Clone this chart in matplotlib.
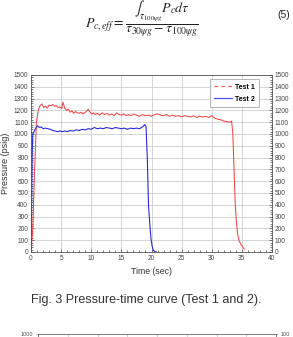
import matplotlib
matplotlib.use("Agg")
import matplotlib.pyplot as plt
from matplotlib.lines import Line2D
from matplotlib.ticker import MultipleLocator

plt.rcParams['font.family'] = ['Liberation Sans', 'DejaVu Sans']
plt.rcParams['mathtext.fontset'] = 'stix'

# Test 1 (red), time in sec / pressure in psig
t1 = [0.0, 0.3, 0.6, 0.9, 1.2, 1.5, 1.8, 2.1, 2.4, 2.7,
      3.0, 3.3, 3.6, 3.9, 4.2, 4.5, 4.8, 5.1, 5.3, 5.6,
      5.9, 6.2, 6.5, 6.8, 7.1, 7.4, 7.7, 8.0, 8.3, 8.6,
      8.9, 9.2, 9.5, 9.8, 10.1, 10.4, 10.7, 11.0, 11.4, 11.8,
      12.2, 12.6, 13.0, 13.4, 13.8, 14.2, 14.6, 15.0, 15.4, 15.8,
      16.2, 16.6, 17.0, 17.5, 18.0, 18.5, 19.0, 19.5, 20.0, 20.5,
      21.0, 21.5, 22.0, 22.5, 23.0, 23.5, 24.0, 24.5, 25.0, 25.5,
      26.0, 26.5, 27.0, 27.5, 28.0, 28.5, 29.0, 29.5, 30.0, 30.5,
      31.0, 31.5, 32.0, 32.5, 33.0, 33.3, 33.5, 33.7, 33.9, 34.1,
      34.3, 34.5, 34.8, 35.1, 35.4]
p1 = [0, 200, 700, 1100, 1200, 1240, 1255, 1225, 1235, 1220,
      1245, 1240, 1250, 1235, 1240, 1225, 1230, 1215, 1270, 1220,
      1200, 1210, 1185, 1195, 1175, 1190, 1180, 1175, 1185, 1170,
      1180, 1190, 1210, 1185, 1170, 1180, 1165, 1175, 1160, 1180,
      1165, 1175, 1160, 1170, 1155, 1180, 1165, 1160, 1170, 1155,
      1165, 1155, 1170, 1160, 1150, 1165, 1155, 1160, 1150, 1165,
      1170, 1160, 1155, 1165, 1150, 1160, 1150, 1155, 1145, 1155,
      1150, 1145, 1155, 1140, 1150, 1145, 1150, 1140, 1155, 1135,
      1125, 1120, 1110, 1105, 1100, 1110, 1000, 700, 400, 250,
      150, 100, 70, 45, 25]

# Test 2 (blue)
t2 = [0.0, 0.1, 0.2, 0.3, 0.5, 0.8, 1.1, 1.4, 1.7, 2.0,
      2.4, 2.8, 3.2, 3.6, 4.0, 4.4, 4.8, 5.2, 5.6, 6.0,
      6.5, 7.0, 7.5, 8.0, 8.5, 9.0, 9.5, 10.0, 10.5, 11.0,
      11.5, 12.0, 12.5, 13.0, 13.5, 14.0, 14.5, 15.0, 15.5, 16.0,
      16.5, 17.0, 17.5, 18.0, 18.5, 18.9, 19.1, 19.3, 19.5, 19.7,
      19.9, 20.1, 20.3, 20.5, 20.8]
p2 = [0, 400, 850, 1000, 1020, 1050, 1070, 1055, 1060, 1045,
      1050, 1045, 1040, 1030, 1025, 1020, 1025, 1020, 1025, 1020,
      1030, 1025, 1035, 1030, 1040, 1035, 1045, 1040, 1055, 1045,
      1050, 1045, 1055, 1050, 1045, 1055, 1050, 1045, 1050, 1040,
      1050, 1045, 1050, 1045, 1060, 1080, 1060, 800, 400, 250,
      120, 50, 15, 5, 0]

W, H = 293, 337
fig = plt.figure(figsize=(W / 100, H / 100), dpi=100)

# equation (its top is cut off in the scanned page)
fig.text(85 / W, 1 - 29 / H,
         r'$P_{c,eff} = \dfrac{\int_{\tau_{100\psi g}} P_c d\tau}{\tau_{30\psi g} - \tau_{100\psi g}}$',
         fontsize=10, va='baseline', ha='left', color='#222222')
fig.text(0.99, 1 - 18 / H, '(5)', fontsize=7.5, ha='right', color='#222222')

# main chart
ax = fig.add_axes([31 / W, 1 - 252 / H, 241 / W, 177 / H])
ax.plot(t1, p1, color='#f04848', lw=0.75)
ax.plot(t2, p2, color='#2a2ad8', lw=0.8)
ax.set_xlim(0, 40)
ax.set_ylim(0, 1500)
ax.xaxis.set_major_locator(MultipleLocator(5))
ax.xaxis.set_minor_locator(MultipleLocator(1))
ax.yaxis.set_major_locator(MultipleLocator(100))
ax.yaxis.set_minor_locator(MultipleLocator(20))
ax.grid(True, which='major', color='#cfcfcf', lw=0.6)
ax.tick_params(which='both', direction='in', labelsize=4.7, colors='#444444',
               length=2, width=0.5, pad=2)
ax.tick_params(which='minor', length=1.2)
ax.tick_params(axis='y', which='both', left=True, right=True)
ax.tick_params(axis='x', which='both', top=False)
for s in ax.spines.values():
    s.set_color('#555555')
    s.set_linewidth(0.6)
ax.set_xlabel('Time (sec)', fontsize=6.3, color='#333333', labelpad=4)
ax.set_ylabel('Pressure (psig)', fontsize=6.5, color='#333333', labelpad=3)

axr = ax.twinx()
axr.set_ylim(ax.get_ylim())
axr.yaxis.set_major_locator(MultipleLocator(100))
axr.yaxis.set_minor_locator(MultipleLocator(20))
axr.tick_params(which='both', direction='in', labelsize=4.7, colors='#444444',
                length=2, width=0.5, pad=2)
axr.tick_params(which='minor', length=1.2)
for s in axr.spines.values():
    s.set_visible(False)

handles = [Line2D([], [], color='#f06060', lw=0.9, ls=(0, (3, 2.5))),
           Line2D([], [], color='#5050ee', lw=0.9)]
leg = ax.legend(handles, ['Test 1', 'Test 2'], loc='upper right',
                prop={'size': 5, 'weight': 'bold'}, fancybox=False,
                edgecolor='#999999', framealpha=1, handlelength=2.6,
                borderpad=0.6, labelspacing=0.75, handletextpad=0.4,
                bbox_to_anchor=(0.96, 0.995))
leg.get_frame().set_linewidth(0.5)

fig.text(0.5, 1 - 303 / H, 'Fig. 3 Pressure-time curve (Test 1 and 2).',
         fontsize=9, ha='center', va='baseline', color='#333333')

# next chart, only its top edge is visible
ax3 = fig.add_axes([38 / W, -0.3, 238 / W, 0.3 + 3 / H])
ax3.set_xlim(0, 8)
ax3.set_ylim(0, 1000)
ax3.set_xticks(range(9))
ax3.set_yticks([1000])
ax3.tick_params(labelsize=4, colors='#555555', length=1.5, width=0.4,
                labelbottom=False, bottom=False, pad=2)
ax3.grid(True, axis='x', color='#bbbbbb', lw=0.5)
for s in ax3.spines.values():
    s.set_color('#666666')
    s.set_linewidth(0.6)
ax3r = ax3.twinx()
ax3r.set_ylim(0, 100)
ax3r.set_yticks([100])
ax3r.tick_params(labelsize=4, colors='#555555', length=1.5, width=0.4, pad=2)
for s in ax3r.spines.values():
    s.set_visible(False)

fig.savefig('out.png', dpi=100)
